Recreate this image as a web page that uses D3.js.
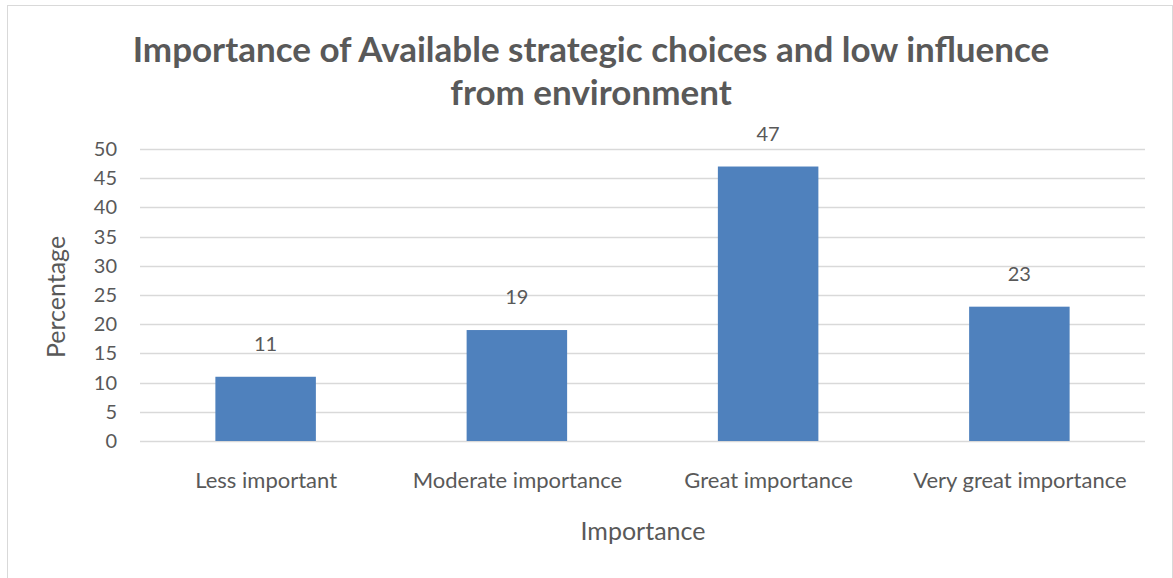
<!DOCTYPE html>
<html>
<head>
<meta charset="utf-8">
<script src="https://cdn.jsdelivr.net/npm/d3@7"></script>
<style>
  body { margin: 0; background: #fff; }
  text { font-family: Lato, "Open Sans", sans-serif; fill: #595959; }
</style>
</head>
<body>
<script>
// Data
let categories = ['Less important', 'Moderate importance', 'Great importance', 'Very great importance'];
let values = [11, 19, 47, 23];
let yTicks = [0, 5, 10, 15, 20, 25, 30, 35, 40, 45, 50];
let titleLines = ['Importance of Available strategic choices and low influence', 'from environment'];

let width = 1173, height = 578;
let margin = { top: 149, bottom: 137, left: 140, right: 28 };

let svg = d3.select('body')
  .append('svg')
  .attr('width', width)
  .attr('height', height);

// chart border
svg.append('rect')
  .attr('x', 7.5).attr('y', 5.5)
  .attr('width', width - 8).attr('height', height - 2)
  .attr('fill', 'none')
  .attr('stroke', '#d9d9d9');

let yScale = d3.scaleLinear()
  .domain([0, 50])
  .range([height - margin.bottom, margin.top]);

let xScale = d3.scaleBand()
  .domain(categories)
  .range([margin.left, width - margin.right])
  .paddingInner(0.6)
  .paddingOuter(0.3);

// gridlines
svg.append('g')
  .selectAll('line')
  .data(yTicks)
  .enter()
  .append('line')
  .attr('x1', margin.left)
  .attr('x2', width - margin.right)
  .attr('y1', d => Math.round(yScale(d)) + 0.5)
  .attr('y2', d => Math.round(yScale(d)) + 0.5)
  .attr('stroke', '#d9d9d9')
  .attr('stroke-width', 1.3);

// y axis
let yAxis = svg.append('g')
  .attr('transform', `translate(${margin.left},0)`)
  .call(d3.axisLeft(yScale).tickValues(yTicks).tickSize(0).tickPadding(23));
yAxis.select('.domain').remove();
yAxis.selectAll('text')
  .style('font-size', '20px')
  .style('font-family', 'Lato, sans-serif')
  .attr('fill', '#595959');

// bars
svg.selectAll('rect.bar')
  .data(values)
  .enter()
  .append('rect')
  .attr('class', 'bar')
  .attr('x', (d, i) => xScale(categories[i]))
  .attr('y', d => yScale(d))
  .attr('width', xScale.bandwidth())
  .attr('height', d => yScale(0) - yScale(d))
  .style('fill', '#4f81bd');

// data labels
svg.selectAll('text.val')
  .data(values)
  .enter()
  .append('text')
  .attr('class', 'val')
  .attr('x', (d, i) => xScale(categories[i]) + xScale.bandwidth() / 2)
  .attr('y', d => yScale(d) - 26)
  .attr('text-anchor', 'middle')
  .style('font-size', '20px')
  .text(d => d);

// x axis labels
let xAxis = svg.append('g')
  .attr('transform', `translate(0, ${yScale(0)})`)
  .call(d3.axisBottom(d3.scalePoint().domain(categories)
    .range([xScale(categories[0]) + xScale.bandwidth() / 2, xScale(categories[3]) + xScale.bandwidth() / 2]))
    .tickSize(0).tickPadding(31));
xAxis.select('.domain').remove();
xAxis.selectAll('text')
  .style('font-size', '22px')
  .style('font-family', 'Lato, sans-serif')
  .attr('fill', '#595959');

// axis titles
svg.append('text')
  .attr('transform', 'rotate(-90)')
  .attr('x', -297)
  .attr('y', 65)
  .attr('text-anchor', 'middle')
  .style('font-size', '25px')
  .text('Percentage');

svg.append('text')
  .attr('x', 643)
  .attr('y', 540)
  .attr('text-anchor', 'middle')
  .style('font-size', '25px')
  .text('Importance');

// title
svg.append('g')
  .selectAll('text')
  .data(titleLines)
  .enter()
  .append('text')
  .attr('x', 591)
  .attr('y', (d, i) => 62 + i * 43)
  .attr('text-anchor', 'middle')
  .style('font-size', '35px')
  .style('font-weight', 'bold')
  .text(d => d);
</script>
</body>
</html>
